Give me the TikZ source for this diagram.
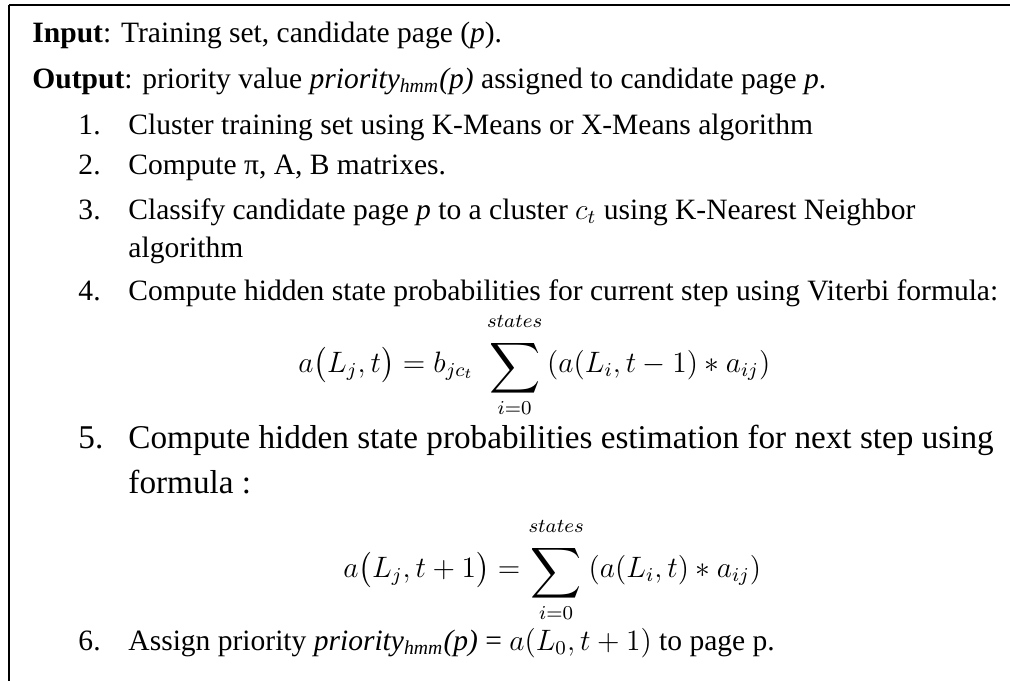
\documentclass[tikz,border=0pt]{standalone}
\usepackage{amsmath}
\usepackage{graphicx}
\usepackage{fontspec}
\setmainfont{Liberation Serif}
\usetikzlibrary{positioning}

\newcommand{\prioval}{\textit{priority}\textsubscript{\textit{hmm}}\textit{(p)}}
\newcommand{\bigsum}{\mathop{\raisebox{-1.5pt}{$\vcenter{\hbox{\scalebox{1.2}{$\displaystyle\sum$}}}$}}\limits}
\newcommand{\upto}{\raisebox{2.5pt}{$\scriptstyle states$}}

\tikzset{
  txt/.style={anchor=base west, inner sep=0pt, font=\fontsize{12}{14}\selectfont},
  bigtxt/.style={anchor=base west, inner sep=0pt, font=\fontsize{13.5}{16}\selectfont},
  frame/.style={line width=0.8pt}
}

\begin{document}
\begin{tikzpicture}[x=0.4065pt, y=-0.4065pt]
    \useasboundingbox (0,0) rectangle (1010,681);

    % Frame (top and left only)
    \draw[frame] (9,5) -- (1010,5);
    \draw[frame] (9,5) -- (9,681);

    % Input / Output
    \node[txt] (input) at (32,42) {\textbf{Input}: Training set, candidate page (\textit{p}).};
    \node[txt] (output) at (32,88) {\textbf{Output}: priority value \prioval{} assigned to candidate page \textit{p}.};

    % Steps
    \node[txt] (n1) at (78,134) {1.};
    \node[txt] (s1) at (128,134) {Cluster training set using K-Means or X-Means algorithm};
    \node[txt] (n2) at (78,174) {2.};
    \node[txt] (s2) at (128,174) {Compute π, A, B matrixes.};
    \node[txt] (n3) at (78,219) {3.};
    \node[txt] (s3) at (128,219) {Classify candidate page \textit{p} to a cluster $c_t$ using K-Nearest Neighbor};
    \node[txt] (s3b) at (128,257) {algorithm};
    \node[txt] (n4) at (78,300) {4.};
    \node[txt] (s4) at (128,300) {Compute hidden state probabilities for current step using Viterbi formula:};

    % Viterbi formula
    \node[txt] (viterbi) at (298,372)
        {$\displaystyle a\bigl(L_j,t\bigr) = b_{jc_t}\; \bigsum_{i=0}^{\upto}\, (a(L_i,t-1) \ast a_{ij})$};

    \node[bigtxt] (n5) at (78,448) {5.};
    \node[bigtxt] (s5) at (128,448) {Compute hidden state probabilities estimation for next step using};
    \node[bigtxt] (s5b) at (128,493) {formula :};

    % Estimation formula
    \node[txt] (estim) at (343,577)
        {$\displaystyle a\bigl(L_j,t+1\bigr) = \bigsum_{i=0}^{\upto}\, (a(L_i,t) \ast a_{ij})$};

    \node[txt] (n6) at (78,650) {6.};
    \node[txt] (s6) at (128,650) {Assign priority \prioval{} = $a(L_0,t+1)$ to page p.};
\end{tikzpicture}
\end{document}
